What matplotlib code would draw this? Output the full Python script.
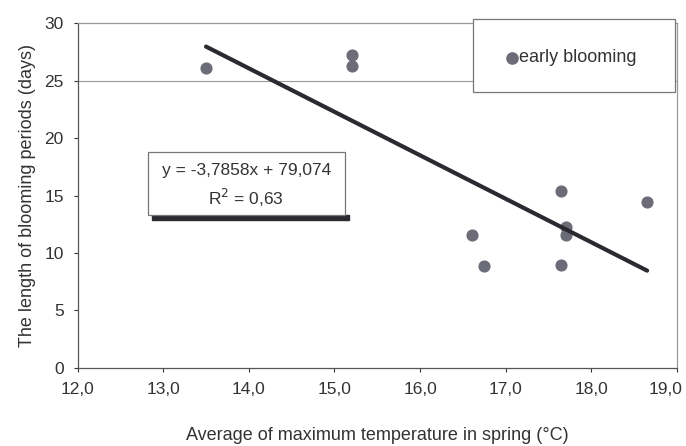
import matplotlib
matplotlib.use('Agg')
import matplotlib.pyplot as plt
import matplotlib.patches as patches
import matplotlib.transforms as mtransforms
from matplotlib.ticker import FuncFormatter
import numpy as np

plt.rcParams['font.family'] = ['Liberation Sans', 'DejaVu Sans']

# data
temp = [13.5, 15.2, 15.2, 16.6, 16.75, 17.65, 17.7, 17.7, 17.65, 18.65]
days = [26.1, 27.2, 26.3, 11.6, 8.9, 15.4, 12.3, 11.6, 9.0, 14.4]
slope, intercept = -3.7858, 79.074
fit_x = [13.5, 18.65]

fig = plt.figure(figsize=(6.86, 4.46), dpi=100)
ax = fig.add_axes([0.113, 0.175, 0.874, 0.773])

ax.axhline(25, color='#9a9a9a', lw=0.8, zorder=1)
ax.scatter(temp, days, s=60, color='#6c6c78', zorder=3)
fx = np.array(fit_x)
ax.plot(fx, slope * fx + intercept, color='#2a2a30', lw=3, solid_capstyle='round', zorder=4)

ax.set_xlim(12, 19)
ax.set_ylim(0, 30)
ax.set_xticks(np.arange(12, 19.1, 1))
ax.set_yticks(np.arange(0, 31, 5))
ax.xaxis.set_major_formatter(FuncFormatter(lambda v, p: f'{v:.1f}'.replace('.', ',')))
ax.tick_params(labelsize=12.5, colors='#333333', length=3, width=0.8, pad=7)
for s in ax.spines.values():
    s.set_color('#555555')
    s.set_linewidth(0.9)
ax.spines['top'].set_color('#9a9a9a')
ax.spines['right'].set_color('#9a9a9a')

# last x tick label sits a little left, as in the scan
fig.canvas.draw()
last = ax.get_xticklabels()[-1]
last.set_transform(last.get_transform() + mtransforms.ScaledTranslation(-12 / 100, 0, fig.dpi_scale_trans))

ax.set_xlabel('Average of maximum temperature in spring (°C)', fontsize=13, color='#333333', labelpad=22)
ax.set_ylabel('The length of blooming periods (days)', fontsize=13, color='#333333', labelpad=6)

# legend box
ax.add_patch(patches.Rectangle((16.62, 24.0), 2.36, 6.4, facecolor='white', edgecolor='#777777',
                               lw=0.9, zorder=5, clip_on=False))
ax.scatter([17.07], [27.0], s=65, color='#6c6c78', zorder=6)
ax.text(17.15, 27.0, 'early blooming', fontsize=13, ha='left', va='center',
        color='#333333', zorder=6)

# equation box with dark shadow
ax.add_patch(patches.Rectangle((12.87, 12.85), 2.3, 0.45, color='#2a2a30', zorder=5))
ax.add_patch(patches.Rectangle((12.82, 13.3), 2.3, 5.5, facecolor='white', edgecolor='#777777',
                               lw=0.9, zorder=5))
ax.text(13.97, 17.2, 'y = -3,7858x + 79,074', fontsize=12.5, ha='center', va='center',
        color='#333333', zorder=6)
ax.text(13.97, 14.8, r'R$^2$ = 0,63', fontsize=12.5, ha='center', va='center',
        color='#333333', zorder=6)

plt.savefig('out.png', dpi=100, facecolor='white')
